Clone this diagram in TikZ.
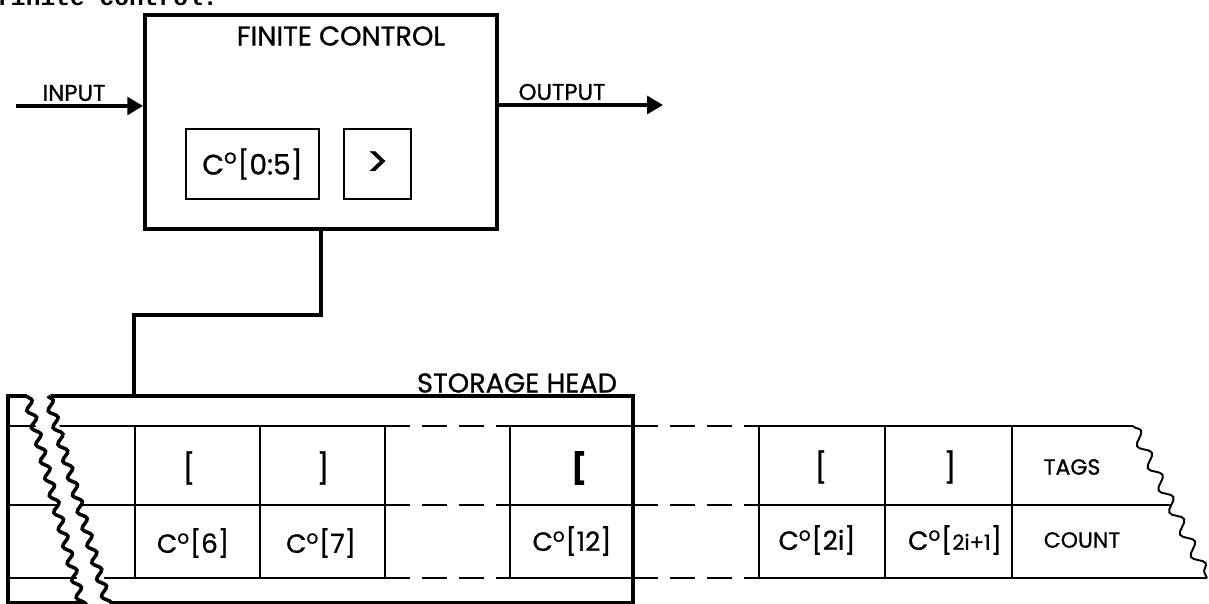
\documentclass[tikz,border=0pt]{standalone}
\usepackage{fontspec}
\setmainfont{Poppins}[FakeBold=0.9]
\newfontfamily\typefont{Liberation Mono}
\usetikzlibrary{arrows.meta,positioning,calc,decorations.pathmorphing}
\newcommand{\Czero}{C\textsuperscript{o}}

\begin{document}
\begin{tikzpicture}[
    x=0.02cm, y=-0.02cm,
    box/.style={draw, line width=2.2pt, inner sep=0pt},
    reg/.style={draw, line width=1.1pt, inner sep=0pt,
        minimum height=1.40cm, font=\fontsize{16}{18}\selectfont},
    label/.style={font=\fontsize{13}{15}\selectfont, inner sep=0pt},
    caption/.style={font=\fontsize{15.5}{17}\selectfont, inner sep=0pt},
    tagmark/.style={font=\fontsize{17}{19}\selectfont, inner sep=0pt},
    countval/.style={font=\fontsize{15}{17}\selectfont, inner sep=0pt},
    field/.style={font=\fontsize{12.5}{14}\selectfont, inner sep=0pt},
    signal/.style={line width=2.4pt, -{Triangle[length=9pt,width=10pt]}},
    wire/.style={line width=2pt},
    tape/.style={line width=1.1pt},
    gap/.style={tape, dash pattern=on 0.5cm off 0.24cm},
    tear/.style={line width=2pt, decorate,
        decoration={snake, amplitude=2.2pt, segment length=10pt}}
  ]
  \useasboundingbox (0,0) rectangle (1209,604);

  % line of the page cut by the top edge
  \node[anchor=base east, inner sep=0pt,
        font=\typefont\bfseries\fontsize{14}{16}\selectfont]
      (prev) at (218,6) {finite control.};

  % finite control
  \node[box, minimum width=7.04cm, minimum height=4.28cm] (ctrl) at (321,122) {};
  \node[caption] (ctrltitle) at (341,36) {FINITE CONTROL};
  \node[reg, minimum width=2.66cm] (count) at (252.5,164) {\Czero[0:5]};
  \node[reg, minimum width=1.34cm, font=\fontsize{24}{26}\selectfont]
      (cmp) at (377.5,164) {>};

  \coordinate (inp) at (16,106);
  \coordinate (outp) at (663,105);
  \draw[signal] (inp) -- (inp -| ctrl.west);
  \draw[signal] (outp -| ctrl.east) -- (outp);
  \node[label] (inlabel) at (74,93) {INPUT};
  \node[label] (outlabel) at (562,92) {OUTPUT};

  % storage head
  \node[box, minimum width=12.5cm, minimum height=4.14cm] (head) at (320.5,499.5) {};
  \node[caption] (headtitle) at (517,383) {STORAGE HEAD};
  \coordinate (tap) at (134,396);
  \draw[wire] (ctrl.south) -- ++(0,84) -| (tap);

  % tape
  \foreach \y in {426,505,578}{
      \draw[tape] (8,\y) -- (385,\y);
      \draw[gap] (385,\y) -- (510,\y);
      \draw[tape] (510,\y) -- (633,\y);
      \draw[gap] (633,\y) -- (759,\y);
  }
  \draw[tape] (759,426) -- (1133,426);
  \draw[tape] (759,505) -- (1171,505);
  \draw[tape] (759,578) -- (1207,578);
  \foreach \x in {135,260,385,510,759,885,1012}
      \draw[tape] (\x,426) -- (\x,578);

  % cell contents
  \node[tagmark] (tag6) at (189,468) {[};
  \node[tagmark] (tag7) at (323,468) {]};
  \node[tagmark, font=\fontsize{17}{19}\selectfont\bfseries] (tag12) at (579,468) {[};
  \node[tagmark] (tagi) at (821,467) {[};
  \node[tagmark] (tagj) at (950,467) {]};
  \node[field] (tags) at (1072,467) {TAGS};
  \node[countval] (c6) at (193,543) {\Czero[6]};
  \node[countval] (c7) at (321,543) {\Czero[7]};
  \node[countval] (c12) at (572,541) {\Czero[12]};
  \node[countval] (ci) at (817,540) {\Czero[2i]};
  \node[countval] (cj) at (955,540) {\Czero[{\fontsize{12}{14}\selectfont 2i+1}]};
  \node[field] (counts) at (1082,540) {COUNT};

  % torn ends
  \fill[white] (26,390) -- (49,390) -- (114,612) -- (86,612) -- cycle;
  \draw[tear] (27,396) -- (84,612);
  \draw[tear] (48,396) -- (110,612);
  \draw[tape, decorate, decoration={snake, amplitude=3pt, segment length=14pt}]
      (1133,426) -- (1207,578);
\end{tikzpicture}
\end{document}
